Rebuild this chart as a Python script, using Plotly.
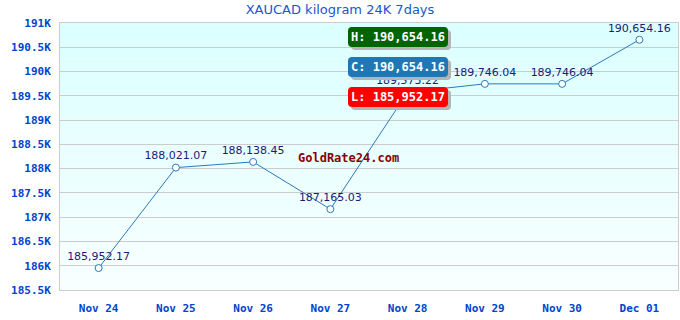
import plotly.graph_objects as go

dates = ["Nov 24", "Nov 25", "Nov 26", "Nov 27", "Nov 28", "Nov 29", "Nov 30", "Dec 01"]
prices = [185952.17, 188021.07, 188138.45, 187165.03, 189573.22, 189746.04, 189746.04, 190654.16]
y_ticks = [185500, 186000, 186500, 187000, 187500, 188000, 188500, 189000, 189500, 190000, 190500, 191000]
y_tick_labels = ["185.5K", "186K", "186.5K", "187K", "187.5K", "188K", "188.5K", "189K", "189.5K", "190K", "190.5K", "191K"]
high_label = "H: 190,654.16"
close_label = "C: 190,654.16"
low_label = "L: 185,952.17"
title = "XAUCAD kilogram 24K 7days"
watermark = "GoldRate24.com"

labels = [f"{v:,.2f}" for v in prices]

L, R, T, B = 60, 678, 23, 290
PW, PH = R - L, B - T

def px(xp):
    return (xp - L) / PW

def py(yp):
    return 1 - (yp - T) / PH

fig = go.Figure()
fig.add_trace(go.Scatter(
    x=list(range(len(dates))), y=prices, mode="lines+markers+text",
    text=labels, textposition="top center",
    textfont=dict(family="DejaVu Sans", size=11, color="#1a1a7a"),
    line=dict(color="#2a7ab8", width=1),
    marker=dict(symbol="circle", size=7, color="white", line=dict(color="#2a7ab8", width=1)),
    cliponaxis=False, hoverinfo="skip",
))

# gradient background bands
n = 30
shapes = []
for i in range(n):
    t = i / (n - 1)
    r = int(0xf8 + (0xdc - 0xf8) * t)
    shapes.append(dict(type="rect", xref="paper", yref="paper", x0=0, x1=1,
                       y0=i / n, y1=(i + 1) / n, fillcolor=f"rgb({r},255,255)",
                       line=dict(width=0), layer="below"))

def rounded(x0, y0, x1, y1, rad):
    p = (f"M {px(x0 + rad)},{py(y0)} L {px(x1 - rad)},{py(y0)} Q {px(x1)},{py(y0)} {px(x1)},{py(y0 + rad)} "
         f"L {px(x1)},{py(y1 - rad)} Q {px(x1)},{py(y1)} {px(x1 - rad)},{py(y1)} "
         f"L {px(x0 + rad)},{py(y1)} Q {px(x0)},{py(y1)} {px(x0)},{py(y1 - rad)} "
         f"L {px(x0)},{py(y0 + rad)} Q {px(x0)},{py(y0)} {px(x0 + rad)},{py(y0)} Z")
    return p

def box(text, y_px, color):
    shapes.append(dict(type="path", xref="paper", yref="paper", path=rounded(351, y_px + 3, 451, y_px + 23, 4),
                       fillcolor="#b4b4b4", line=dict(width=0), layer="above"))
    shapes.append(dict(type="path", xref="paper", yref="paper", path=rounded(348, y_px, 448, y_px + 20, 4),
                       fillcolor=color, line=dict(width=0), layer="above"))
    fig.add_annotation(xref="paper", yref="paper", x=px(398), y=py(y_px + 10),
                       xanchor="center", yanchor="middle", text=text, showarrow=False,
                       font=dict(family="DejaVu Sans Mono", size=12, color="white", weight="bold"))

box(high_label, 27, "#006400")
box(close_label, 57, "#1f78b4")
box(low_label, 87, "#ff0000")

fig.add_annotation(xref="paper", yref="paper", x=px(348), y=py(158),
                   xanchor="center", yanchor="middle", text=watermark, showarrow=False,
                   font=dict(family="DejaVu Sans Mono", size=12, color="#8b0000", weight="bold"))

fig.update_layout(
    width=680, height=320,
    margin=dict(l=L, r=680 - R, t=T, b=320 - B),
    paper_bgcolor="white", plot_bgcolor="rgba(0,0,0,0)",
    shapes=shapes,
    showlegend=False,
    title=dict(text=title, x=0.5, xanchor="center", y=0.985, yanchor="top",
               font=dict(family="DejaVu Sans", size=13, color="#2255cc")),
    xaxis=dict(range=[-0.5, len(dates) - 0.5], tickvals=list(range(len(dates))), ticktext=dates,
               showgrid=False, zeroline=False, showline=True, linecolor="#cccccc", mirror=True,
               ticks="outside", ticklen=8, tickcolor="rgba(0,0,0,0)",
               tickfont=dict(family="DejaVu Sans Mono", size=11, color="#0044cc", weight="bold")),
    yaxis=dict(range=[185500, 191000], tickvals=y_ticks, ticktext=y_tick_labels,
               showgrid=True, gridcolor="#cccccc", gridwidth=1, zeroline=False,
               showline=True, linecolor="#cccccc", mirror=True,
               ticks="outside", ticklen=6, tickcolor="rgba(0,0,0,0)",
               tickfont=dict(family="DejaVu Sans Mono", size=11, color="#0044cc", weight="bold")),
)

fig.write_html("out.html")
